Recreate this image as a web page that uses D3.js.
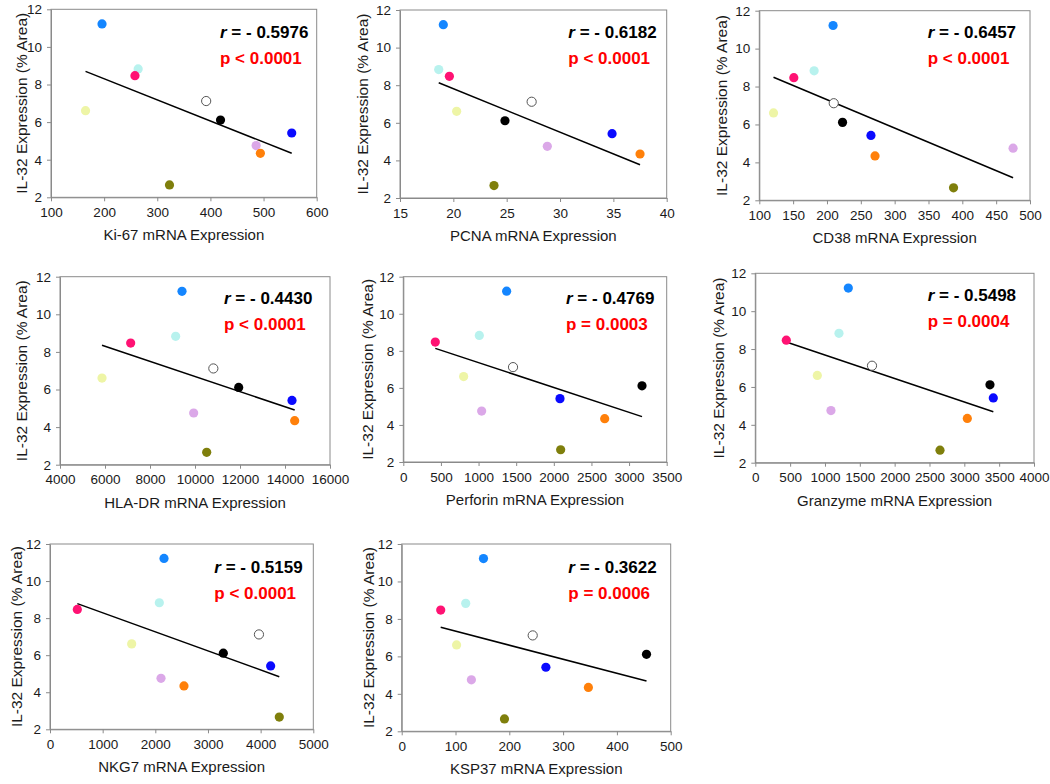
<!DOCTYPE html>
<html>
<head>
<meta charset="utf-8">
<script src="https://cdn.jsdelivr.net/npm/d3@7/dist/d3.min.js"></script>
<style>
  html, body { margin: 0; padding: 0; background: #fff; }
  svg { display: block; font-family: "Liberation Sans", Arial, Helvetica, sans-serif; }
</style>
</head>
<body>
<svg id="chart" width="1050" height="784"></svg>
<script>
// ---------- DATA ----------
// Ten samples, same IL-32 value in every panel
const samples = ["S1", "S2", "S3", "S4", "S5", "S6", "S7", "S8", "S9", "S10"];
const il32 = [11.22, 8.83, 8.47, 6.61, 7.12, 6.11, 5.42, 4.75, 4.34, 2.66];
const sampleColors = ["#1486ff", "#b8f2ee", "#ff1273", "#eef5a6", "#ffffff", "#000000", "#0a0aff", "#dba8e8", "#ff800a", "#7f7f0c"];

// mRNA expression per marker (x values, in sample order)
const ki67     = [196, 264, 258, 165, 392, 419, 553, 486, 494, 323];
const pcna     = [19.06, 18.63, 19.63, 20.31, 27.34, 24.84, 34.88, 28.81, 37.5, 23.81];
const cd38     = [209, 181, 151, 121, 210, 223, 265, 475, 271, 387];
const hladr    = [9422, 9141, 7141, 5867, 10815, 11941, 14311, 9941, 14430, 10519];
const perforin = [1373, 1010, 425, 802, 1458, 3172, 2082, 1041, 2676, 2091];
const granzyme = [1335, 1201, 445, 890, 1675, 3368, 3416, 1086, 3043, 2651];
const nkg7     = [2165, 2076, 519, 1551, 3968, 3291, 4190, 2108, 2544, 4354];
const ksp37    = [152, 119, 72.5, 102, 243.5, 455, 268, 129.5, 347, 191];

// Axis titles
const markerTitles = ["Ki-67 mRNA Expression", "PCNA mRNA Expression", "CD38 mRNA Expression",
  "HLA-DR mRNA Expression", "Perforin mRNA Expression", "Granzyme mRNA Expression",
  "NKG7 mRNA Expression", "KSP37 mRNA Expression"];
const yTitle = "IL-32 Expression (% Area)";

// X tick values per panel
const ki67Ticks     = [100, 200, 300, 400, 500, 600];
const pcnaTicks     = [15, 20, 25, 30, 35, 40];
const cd38Ticks     = [100, 150, 200, 250, 300, 350, 400, 450, 500];
const hladrTicks    = [4000, 6000, 8000, 10000, 12000, 14000, 16000];
const perforinTicks = [0, 500, 1000, 1500, 2000, 2500, 3000, 3500];
const granzymeTicks = [0, 500, 1000, 1500, 2000, 2500, 3000, 3500, 4000];
const nkg7Ticks     = [0, 1000, 2000, 3000, 4000, 5000];
const ksp37Ticks    = [0, 100, 200, 300, 400, 500];
const yTicks = [2, 4, 6, 8, 10, 12];

// Correlation statistics
const rValues = ["- 0.5976", "- 0.6182", "- 0.6457", "- 0.4430", "- 0.4769", "- 0.5498", "- 0.5159", "- 0.3622"];
const pValues = ["p < 0.0001", "p < 0.0001", "p < 0.0001", "p < 0.0001", "p = 0.0003", "p = 0.0004", "p < 0.0001", "p = 0.0006"];

// Trend line end points [x, y]
const fitKi67     = [[165, 8.70], [553, 4.34]];
const fitPcna     = [[18.63, 8.13], [37.5, 3.77]];
const fitCd38     = [[121, 8.49], [475, 3.19]];
const fitHladr    = [[5867, 8.35], [14430, 4.91]];
const fitPerforin = [[425, 8.13], [3172, 4.45]];
const fitGranzyme = [[445, 8.37], [3416, 4.69]];
const fitNkg7     = [[519, 8.78], [4354, 4.84]];
const fitKsp37    = [[72.5, 7.55], [455, 4.69]];

const xValues = [ki67, pcna, cd38, hladr, perforin, granzyme, nkg7, ksp37];
const xTicksAll = [ki67Ticks, pcnaTicks, cd38Ticks, hladrTicks, perforinTicks, granzymeTicks, nkg7Ticks, ksp37Ticks];
const fits = [fitKi67, fitPcna, fitCd38, fitHladr, fitPerforin, fitGranzyme, fitNkg7, fitKsp37];

// ---------- LAYOUT (plot rectangles, title/label positions) ----------
const layout = [
  { l: 51,    t: 9.3,   r: 316.7, b: 197.3, yt: 26.7,  sx: 220,   sy: 37.5 },
  { l: 400,   t: 10,    r: 666.7, b: 198,   yt: 368,   sx: 568.3, sy: 37.5 },
  { l: 759.3, t: 10.7,  r: 1030,  b: 200.3, yt: 727.3, sx: 927.7, sy: 37.5 },
  { l: 60,    t: 276.7, r: 330,   b: 464.7, yt: 27.3,  sx: 224,   sy: 304 },
  { l: 403.3, t: 276.7, r: 666.7, b: 462,   yt: 373.3, sx: 566,   sy: 304.3 },
  { l: 755.3, t: 273.3, r: 1034,  b: 462.7, yt: 724,   sx: 927.7, sy: 300.7 },
  { l: 50,    t: 544,   r: 313.3, b: 729.3, yt: 22.3,  sx: 214.3, sy: 573.3 },
  { l: 401.7, t: 544,   r: 670.7, b: 731.3, yt: 374,   sx: 568.3, sy: 573.3 }
];

const svg = d3.select("#chart");
const axisGray = "#8a8a8a";

layout.forEach((L, i) => {
  const ticks = xTicksAll[i];
  const x = d3.scaleLinear().domain([ticks[0], ticks[ticks.length - 1]]).range([L.l, L.r]);
  const y = d3.scaleLinear().domain([yTicks[0], yTicks[yTicks.length - 1]]).range([L.b, L.t]);
  const g = svg.append("g");

  // plot-area box (top & right border)
  g.append("rect")
    .attr("x", L.l).attr("y", L.t)
    .attr("width", L.r - L.l).attr("height", L.b - L.t)
    .attr("fill", "none").attr("stroke", axisGray).attr("stroke-width", 1);

  // x axis
  const xa = g.append("g").attr("transform", `translate(0,${L.b})`)
    .call(d3.axisBottom(x).tickValues(ticks).tickSizeInner(4).tickSizeOuter(0).tickPadding(6).tickFormat(d3.format("d")));
  xa.select(".domain").attr("stroke", axisGray);
  xa.selectAll(".tick line").attr("stroke", axisGray);
  xa.selectAll(".tick text").attr("fill", "#1a1a1a").attr("font-size", "13.5px")
    .attr("font-family", "Liberation Sans, Arial, sans-serif");

  // y axis
  const ya = g.append("g").attr("transform", `translate(${L.l},0)`)
    .call(d3.axisLeft(y).tickValues(yTicks).tickSizeInner(4).tickSizeOuter(0).tickPadding(5).tickFormat(d3.format("d")));
  ya.select(".domain").attr("stroke", axisGray);
  ya.selectAll(".tick line").attr("stroke", axisGray);
  ya.selectAll(".tick text").attr("fill", "#1a1a1a").attr("font-size", "13.5px")
    .attr("font-family", "Liberation Sans, Arial, sans-serif");

  // axis titles
  g.append("text")
    .attr("x", (L.l + L.r) / 2).attr("y", L.b + 43)
    .attr("text-anchor", "middle").attr("font-size", "15px").attr("fill", "#1a1a1a")
    .text(markerTitles[i]);
  g.append("text")
    .attr("transform", `translate(${L.yt},${(L.t + L.b) / 2}) rotate(-90)`)
    .attr("text-anchor", "middle").attr("font-size", "15.5px").attr("fill", "#1a1a1a")
    .text(yTitle);

  // trend line
  g.append("path")
    .datum(fits[i])
    .attr("d", d3.line().x(d => x(d[0])).y(d => y(d[1])))
    .attr("fill", "none").attr("stroke", "#000").attr("stroke-width", 1.5);

  // points
  g.selectAll("circle.pt")
    .data(samples.map((s, k) => ({ s, xv: xValues[i][k], yv: il32[k], c: sampleColors[k] })))
    .join("circle")
    .attr("class", "pt")
    .attr("cx", d => x(d.xv)).attr("cy", d => y(d.yv)).attr("r", 4.6)
    .attr("fill", d => d.c)
    .attr("stroke", d => d.c === "#ffffff" ? "#555" : "none")
    .attr("stroke-width", d => d.c === "#ffffff" ? 1 : 0);

  // statistics
  const rt = g.append("text").attr("x", L.sx).attr("y", L.sy)
    .attr("font-size", "17px").attr("font-weight", "bold").attr("fill", "#000");
  rt.append("tspan").attr("font-style", "italic").text("r");
  rt.append("tspan").text(" = " + rValues[i]);
  g.append("text").attr("x", L.sx).attr("y", L.sy + 26)
    .attr("font-size", "17px").attr("font-weight", "bold").attr("fill", "#ff0000")
    .text(pValues[i]);
});
</script>
</body>
</html>
